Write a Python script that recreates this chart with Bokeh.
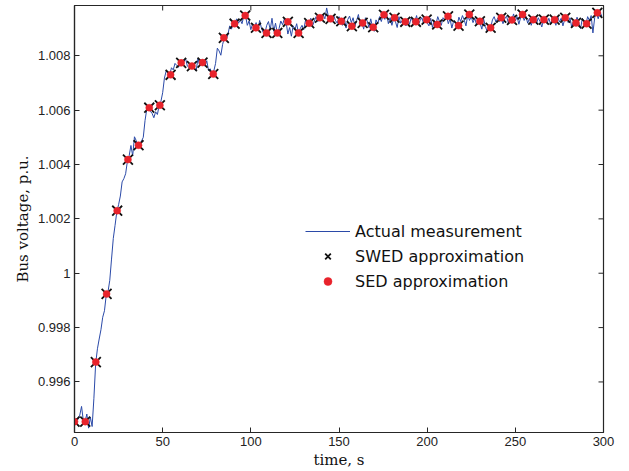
import math
from bokeh.plotting import figure
from bokeh.models import (ColumnDataSource, Range1d, FixedTicker,
                          CustomJSTickFormatter, Legend, LegendItem)
from bokeh.embed import file_html
from bokeh.resources import INLINE

# ---------------- data ----------------
meas_t = list(range(0, 300))
meas_v = [
    0.99454, 0.99466, 0.99462, 0.99478, 0.99510, 0.99458, 0.99454, 0.99482, 0.99430, 0.99470,
    0.99436, 0.99540, 0.99668, 0.99722, 0.99758, 0.99792, 0.99838, 0.99862, 0.99920, 0.99932,
    0.99974, 1.00052, 1.00128, 1.00176, 1.00226, 1.00252, 1.00284, 1.00336, 1.00348, 1.00366,
    1.00412, 1.00432, 1.00470, 1.00432, 1.00502, 1.00488, 1.00470, 1.00476, 1.00486, 1.00500,
    1.00562, 1.00604, 1.00610, 1.00596, 1.00588, 1.00572, 1.00594, 1.00584, 1.00616, 1.00632,
    1.00664, 1.00718, 1.00744, 1.00736, 1.00730, 1.00756, 1.00748, 1.00772, 1.00764, 1.00758,
    1.00774, 1.00768, 1.00778, 1.00790, 1.00762, 1.00756, 1.00762, 1.00770, 1.00752, 1.00744,
    1.00790, 1.00764, 1.00776, 1.00768, 1.00762, 1.00782, 1.00746, 1.00752, 1.00734, 1.00744,
    1.00772, 1.00828, 1.00818, 1.00802, 1.00842, 1.00866, 1.00858, 1.00878, 1.00910, 1.00898,
    1.00918, 1.00924, 1.00936, 1.00920, 1.00932, 1.00918, 1.00946, 1.00948, 1.00912, 1.00928,
    1.00896, 1.00918, 1.00904, 1.00922, 1.00894, 1.00930, 1.00902, 1.00886, 1.00884, 1.00912,
    1.00926, 1.00896, 1.00938, 1.00890, 1.00920, 1.00884, 1.00900, 1.00928, 1.00914, 1.00936,
    1.00924, 1.00880, 1.00904, 1.00872, 1.00910, 1.00896, 1.00918, 1.00884, 1.00900, 1.00912,
    1.00896, 1.00930, 1.00916, 1.00920, 1.00938, 1.00910, 1.00928, 1.00944, 1.00926, 1.00940,
    1.00932, 1.00950, 1.00936, 1.00976, 1.00944, 1.00936, 1.00924, 1.00948, 1.00930, 1.00920,
    1.00944, 1.00926, 1.00912, 1.00940, 1.00902, 1.00934, 1.00946, 1.00922, 1.00940, 1.00908,
    1.00930, 1.00952, 1.00916, 1.00922, 1.00898, 1.00940, 1.00928, 1.00904, 1.00936, 1.00906,
    1.00890, 1.00932, 1.00918, 1.00944, 1.00926, 1.00950, 1.00934, 1.00956, 1.00918, 1.00940,
    1.00912, 1.00938, 1.00926, 1.00904, 1.00944, 1.00920, 1.00932, 1.00924, 1.00910, 1.00936,
    1.00916, 1.00942, 1.00920, 1.00926, 1.00948, 1.00914, 1.00930, 1.00940, 1.00918, 1.00934,
    1.00922, 1.00910, 1.00938, 1.00904, 1.00930, 1.00916, 1.00944, 1.00926, 1.00912, 1.00940,
    1.00932, 1.00946, 1.00918, 1.00936, 1.00902, 1.00928, 1.00922, 1.00912, 1.00942, 1.00926,
    1.00948, 1.00932, 1.00910, 1.00950, 1.00930, 1.00944, 1.00922, 1.00938, 1.00914, 1.00928,
    1.00920, 1.00898, 1.00936, 1.00908, 1.00890, 1.00904, 1.00902, 1.00932, 1.00944, 1.00924,
    1.00938, 1.00926, 1.00940, 1.00918, 1.00936, 1.00946, 1.00922, 1.00940, 1.00932, 1.00954,
    1.00928, 1.00944, 1.00916, 1.00940, 1.00952, 1.00930, 1.00946, 1.00920, 1.00938, 1.00912,
    1.00934, 1.00944, 1.00918, 1.00940, 1.00926, 1.00906, 1.00932, 1.00944, 1.00920, 1.00938,
    1.00916, 1.00940, 1.00934, 1.00912, 1.00946, 1.00924, 1.00938, 1.00910, 1.00934, 1.00948,
    1.00922, 1.00940, 1.00904, 1.00930, 1.00918, 1.00942, 1.00920, 1.00900, 1.00938, 1.00926,
    1.00914, 1.00944, 1.00930, 1.00948, 1.00884, 1.00940, 1.00956, 1.00936, 1.00962, 1.00946,
]

approx_t = [
    0.0, 6.1, 12.1, 18.2, 24.2, 30.3, 36.3, 42.4, 48.4, 54.5,
    60.5, 66.6, 72.6, 78.7, 84.7, 90.8, 96.8, 102.9, 108.9, 115.0,
    121.0, 127.1, 133.1, 139.2, 145.2, 151.3, 157.3, 163.4, 169.4, 175.5,
    181.5, 187.6, 193.6, 199.7, 205.7, 211.8, 217.8, 223.9, 229.9, 236.0,
    242.0, 248.1, 254.1, 260.2, 266.2, 272.3, 278.3, 284.4, 290.4, 296.5,
]
swed_v = [
    0.99454, 0.99454, 0.99673, 0.99924, 1.00230, 1.00418, 1.00471, 1.00609, 1.00618, 1.00730,
    1.00774, 1.00762, 1.00775, 1.00733, 1.00866, 1.00918, 1.00948, 1.00903, 1.00884, 1.00884,
    1.00925, 1.00884, 1.00920, 1.00940, 1.00936, 1.00927, 1.00909, 1.00921, 1.00905, 1.00951,
    1.00940, 1.00925, 1.00925, 1.00933, 1.00915, 1.00945, 1.00911, 1.00952, 1.00927, 1.00903,
    1.00940, 1.00932, 1.00952, 1.00933, 1.00933, 1.00933, 1.00940, 1.00921, 1.00918, 1.00958,
]
sed_v = list(swed_v)

x_ticks = [0, 50, 100, 150, 200, 250, 300]
y_ticks = [0.996, 0.998, 1.0, 1.002, 1.004, 1.006, 1.008]
x_lim = (0, 300)
y_lim = (0.99414, 1.00985)

# ---------------- figure ----------------
p = figure(width=629, height=471, output_backend="svg", toolbar_location=None,
           x_range=Range1d(*x_lim), y_range=Range1d(*y_lim))
p.min_border_left = 74
p.min_border_right = 26
p.min_border_top = 5
p.min_border_bottom = 38
p.xgrid.visible = False
p.ygrid.visible = False
p.background_fill_color = "white"
p.border_fill_color = "white"
p.outline_line_color = "#262626"
p.outline_line_width = 1.2

xa = p.xaxis[0]
ya = p.yaxis[0]
xa.ticker = FixedTicker(ticks=x_ticks)
ya.ticker = FixedTicker(ticks=y_ticks)
ya.formatter = CustomJSTickFormatter(code="return String(parseFloat(tick.toFixed(3)));")
for ax in (xa, ya):
    ax.axis_line_color = "#262626"
    ax.axis_line_width = 1.2
    ax.major_tick_in = 5
    ax.major_tick_out = 0
    ax.minor_tick_line_color = None
    ax.major_tick_line_color = "#262626"
    ax.major_label_text_font = "Liberation Sans"
    ax.major_label_text_color = "#222222"
    ax.major_label_text_font_size = "13px"
    ax.major_label_standoff = 4
    ax.axis_label_text_font = "DejaVu Serif"
    ax.axis_label_text_font_size = "15px"
    ax.axis_label_text_font_style = "normal"
    ax.axis_label_text_color = "#111111"

xa.axis_label = "time, s"
ya.axis_label = "Bus voltage, p.u."
xa.axis_label_standoff = 2
ya.axis_label_standoff = 3

# inward ticks on the top and right edges of the box
p.scatter(x_ticks, [y_lim[1]] * len(x_ticks), marker="dash", size=10,
          angle=math.pi / 2, line_color="#262626", line_width=1)
p.scatter([x_lim[1]] * len(y_ticks), y_ticks, marker="dash", size=10,
          angle=0, line_color="#262626", line_width=1)

src_line = ColumnDataSource(dict(t=meas_t, v=meas_v))
src_pts = ColumnDataSource(dict(t=approx_t, swed=swed_v, sed=sed_v))

r_line = p.line("t", "v", source=src_line, line_color="#2b4aa8", line_width=1)
r_swed = p.scatter("t", "swed", source=src_pts, marker="x", size=14,
                   line_color="#111111", line_width=1.8)
r_sed = p.scatter("t", "sed", source=src_pts, marker="circle", size=7,
                  fill_color="#e8232b", line_color="#e8232b", line_width=0.5)

legend = Legend(items=[
    LegendItem(label="Actual measurement", renderers=[r_line]),
    LegendItem(label="SWED approximation", renderers=[r_swed]),
    LegendItem(label="SED approximation", renderers=[r_sed]),
], location=(231, 141))
legend.glyph_width = 45
legend.glyph_height = 20
legend.label_height = 20
legend.spacing = 5
legend.padding = 0
legend.margin = 0
legend.label_standoff = 5
legend.label_text_font = "DejaVu Sans"
legend.label_text_font_size = "16px"
legend.label_text_color = "#111111"
legend.border_line_alpha = 0
legend.background_fill_alpha = 0
p.add_layout(legend, "center")

open("out.html", "w").write(file_html(p, INLINE))
